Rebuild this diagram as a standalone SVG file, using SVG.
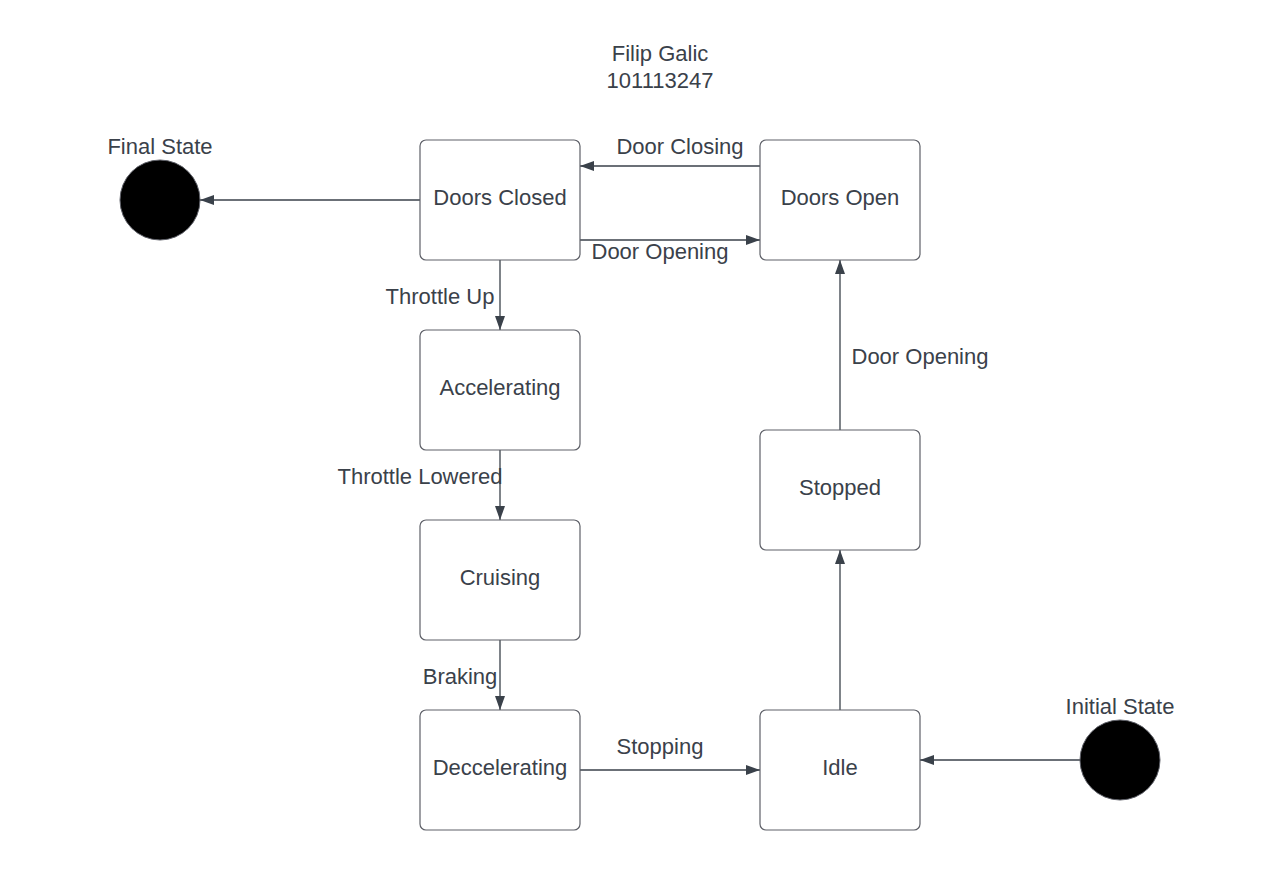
<svg xmlns="http://www.w3.org/2000/svg" width="1280" height="870" viewBox="0 0 1280 870">
<style>
.box{fill:#fff;stroke:#5e6068;stroke-width:1.2}
.t{font-family:"Liberation Sans",Arial,sans-serif;font-size:22px;fill:#3a414a;text-anchor:middle}
.c{stroke:#3a414a;stroke-width:1.3;fill:none;marker-end:url(#ah)}
.dot{fill:#000;stroke:#5e6068;stroke-width:1}
</style>
<defs>
<marker id="ah" viewBox="0 0 14 10" refX="14" refY="5" markerWidth="14" markerHeight="10" markerUnits="userSpaceOnUse" orient="auto">
<path d="M0,0 L14,5 L0,10 Z" fill="#3a414a"/>
</marker>
</defs>
<rect width="1280" height="870" fill="#fff"/>
<g id="title">
<text class="t" x="660" y="61">Filip Galic</text>
<text class="t" x="660" y="88">101113247</text>
</g>
<g id="connectors">
<path class="c" d="M420,200 L200,200"/>
<path class="c" d="M760,166 L580,166"/>
<path class="c" d="M580,240 L760,240"/>
<path class="c" d="M500,260 L500,330"/>
<path class="c" d="M500,450 L500,520"/>
<path class="c" d="M500,640 L500,710"/>
<path class="c" d="M580,770 L760,770"/>
<path class="c" d="M1080,760 L920,760"/>
<path class="c" d="M840,710 L840,550"/>
<path class="c" d="M840,430 L840,260"/>
<text class="t" x="680" y="154">Door Closing</text>
<text class="t" x="660" y="259">Door Opening</text>
<text class="t" x="440" y="304">Throttle Up</text>
<text class="t" x="420" y="484">Throttle Lowered</text>
<text class="t" x="460" y="684">Braking</text>
<text class="t" x="660" y="754">Stopping</text>
<text class="t" x="920" y="364">Door Opening</text>
</g>
<g id="final"><circle class="dot" cx="160" cy="200" r="40"/><text class="t" x="160" y="154">Final State</text></g>
<g id="initial"><circle class="dot" cx="1120" cy="760" r="40"/><text class="t" x="1120" y="714">Initial State</text></g>
<g id="doorsClosed"><rect class="box" x="420" y="140" width="160" height="120" rx="6"/><text class="t" x="500" y="205">Doors Closed</text></g>
<g id="doorsOpen"><rect class="box" x="760" y="140" width="160" height="120" rx="6"/><text class="t" x="840" y="205">Doors Open</text></g>
<g id="accelerating"><rect class="box" x="420" y="330" width="160" height="120" rx="6"/><text class="t" x="500" y="395">Accelerating</text></g>
<g id="cruising"><rect class="box" x="420" y="520" width="160" height="120" rx="6"/><text class="t" x="500" y="585">Cruising</text></g>
<g id="deccelerating"><rect class="box" x="420" y="710" width="160" height="120" rx="6"/><text class="t" x="500" y="775">Deccelerating</text></g>
<g id="idle"><rect class="box" x="760" y="710" width="160" height="120" rx="6"/><text class="t" x="840" y="775">Idle</text></g>
<g id="stopped"><rect class="box" x="760" y="430" width="160" height="120" rx="6"/><text class="t" x="840" y="495">Stopped</text></g>
</svg>
